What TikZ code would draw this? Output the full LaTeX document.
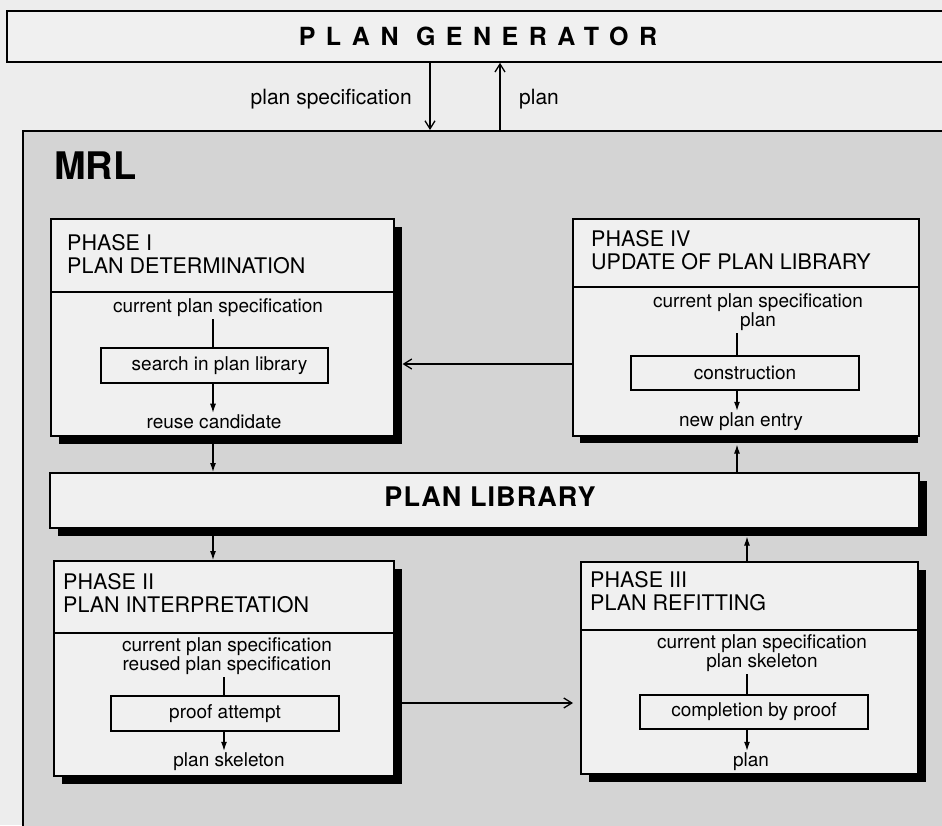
\documentclass[tikz,border=0pt]{standalone}
\usepackage{fontspec}
\setmainfont{TeX Gyre Heros}
\usepackage{xcolor}
\usepackage{tikz}
\usetikzlibrary{shapes,arrows,positioning,calc,arrows.meta,shadows}

\definecolor{paper}{gray}{0.93}
\definecolor{mrlgray}{gray}{0.83}
\definecolor{boxgray}{gray}{0.94}

\begin{document}
\begin{tikzpicture}[x=1pt,y=-1pt,
    phasebox/.style={draw, line width=1.6pt, fill=boxgray, anchor=north west, inner sep=0pt},
    shadowed/.style={general shadow={fill=black, shadow xshift=8pt, shadow yshift=-8pt}},
    stepbox/.style={draw, line width=1.1pt, fill=boxgray, inner sep=0pt, font=\fontsize{19}{19}\selectfont},
    phasetitle/.style={anchor=west, align=left, inner sep=0pt, font=\fontsize{21.5}{23}\selectfont},
    io/.style={align=center, inner sep=2pt, font=\fontsize{19}{19}\selectfont},
    flow/.style={-{Latex[length=9pt,width=6pt]}, line width=1.1pt},
    link/.style={-{Straight Barb[length=8pt,width=10pt]}, line width=1.3pt},
    divider/.style={line width=1.1pt}]
    \clip (0,0) rectangle (942,825);
    \fill[paper] (0,0) rectangle (942,825);

    % columns and rows of the connectors
    \coordinate (cola) at (430,0);
    \coordinate (colb) at (500,0);
    \coordinate (col1) at (213,0);
    \coordinate (col2) at (224,0);
    \coordinate (col3) at (747,0);
    \coordinate (col4) at (737,0);
    \coordinate (row1) at (0,364);
    \coordinate (row2) at (0,703);

    % Plan generator
    \node[draw, line width=1.8pt, fill=boxgray, anchor=north west, minimum width=960, minimum height=51] (pg) at (6,10) {};
    \node[font=\bfseries\fontsize{25}{25}\selectfont\addfontfeature{LetterSpace=42}] (pgtxt) at (478,36) {PLAN GENERATOR};

    % MRL frame
    \node[draw, line width=2pt, fill=mrlgray, anchor=north west, minimum width=960, minimum height=760] (mrl) at (22,130) {};
    \node[anchor=west, inner sep=0pt, font=\bfseries\fontsize{38}{38}\selectfont] (mrltxt) at (54,166) {MRL};

    \draw[link] (pg.south -| cola) -- (mrl.north -| cola);
    \draw[link] (mrl.north -| colb) -- (pg.south -| colb);
    \node[io, anchor=east, font=\fontsize{21}{21}\selectfont] (pspec) at (414,99) {plan specification};
    \node[io, anchor=west, font=\fontsize{21}{21}\selectfont] (pplan) at (517,99) {plan};

    % Phase I
    \node[phasebox, shadowed, minimum width=343, minimum height=217] (ph1) at (50,218) {};
    \node[phasetitle] (t1) at (67,254) {PHASE I\\PLAN DETERMINATION};
    \coordinate (d1) at (0,292);
    \draw[divider] (ph1.west |- d1) -- (ph1.east |- d1);
    \node[io] (cps1) at (218,308) {current plan specification};
    \node[stepbox, minimum width=227, minimum height=35] (srch) at (214.5,365.5) {\hspace{10pt}search in plan library};
    \node[io] (rc1) at (214,422) {reuse candidate};
    \draw[divider] (col1 |- cps1.south) -- (col1 |- srch.north);
    \draw[flow] (col1 |- srch.south) -- (col1 |- rc1.north);

    % Phase IV
    \fill (580,435) rectangle (918,443);
    \node[phasebox, minimum width=346, minimum height=217] (ph4) at (572,218) {};
    \node[phasetitle] (t4) at (591,250) {PHASE IV\\UPDATE OF PLAN LIBRARY};
    \coordinate (d4) at (0,287);
    \draw[divider] (ph4.west |- d4) -- (ph4.east |- d4);
    \node[io] (cps4) at (758,312.5) {current plan specification\\plan};
    \node[stepbox, minimum width=228, minimum height=34] (cons) at (745,373) {construction};
    \node[io] (npe) at (741,422) {new plan entry};
    \draw[divider] (col4 |- cps4.south) -- (col4 |- cons.north);
    \draw[flow] (col4 |- cons.south) -- (col4 |- npe.north);

    \draw[link, shorten >=8pt] (ph4.west |- row1) -- (ph1.east |- row1);

    % Plan library
    \node[phasebox, shadowed, minimum width=869, minimum height=55] (lib) at (49,472) {};
    \node[font=\bfseries\fontsize{27}{27}\selectfont\addfontfeature{LetterSpace=4}] (libtxt) at (490,497) {PLAN LIBRARY};

    \draw[flow] (col1 |- ph1.south) -- (col1 |- lib.north);
    \draw[flow, shorten >=8pt] (col4 |- lib.north) -- (col4 |- ph4.south);

    % Phase II
    \node[phasebox, shadowed, minimum width=340, minimum height=215] (ph2) at (53,560) {};
    \node[phasetitle] (t2) at (63,593.5) {PHASE II\\PLAN INTERPRETATION};
    \coordinate (d2) at (0,633);
    \draw[divider] (ph2.west |- d2) -- (ph2.east |- d2);
    \node[io] (cps2) at (227,656.5) {current plan specification\\reused plan specification};
    \node[stepbox, minimum width=228, minimum height=35] (prf) at (225,713.5) {proof attempt};
    \node[io] (psk) at (229,762) {plan skeleton};
    \draw[divider] (col2 |- cps2.south) -- (col2 |- prf.north);
    \draw[flow] (col2 |- prf.south) -- (col2 |- psk.north);

    \draw[flow] (col1 |- lib.south) -- (col1 |- ph2.north);

    % Phase III
    \node[phasebox, shadowed, minimum width=337, minimum height=212] (ph3) at (580,561) {};
    \node[phasetitle] (t3) at (590,591.5) {PHASE III\\PLAN REFITTING};
    \coordinate (d3) at (0,630);
    \draw[divider] (ph3.west |- d3) -- (ph3.east |- d3);
    \node[io] (cps3) at (762,653.5) {current plan specification\\plan skeleton};
    \node[stepbox, minimum width=228, minimum height=34] (cmp) at (754,712) {completion by proof};
    \node[io] (pln3) at (751,762) {plan};
    \draw[divider] (col3 |- cps3.south) -- (col3 |- cmp.north);
    \draw[flow] (col3 |- cmp.south) -- (col3 |- pln3.north);

    \draw[link, shorten >=7pt] (ph2.east |- row2) -- (ph3.west |- row2);
    \draw[flow, shorten >=8pt] (col3 |- ph3.north) -- (col3 |- lib.south);
\end{tikzpicture}
\end{document}
